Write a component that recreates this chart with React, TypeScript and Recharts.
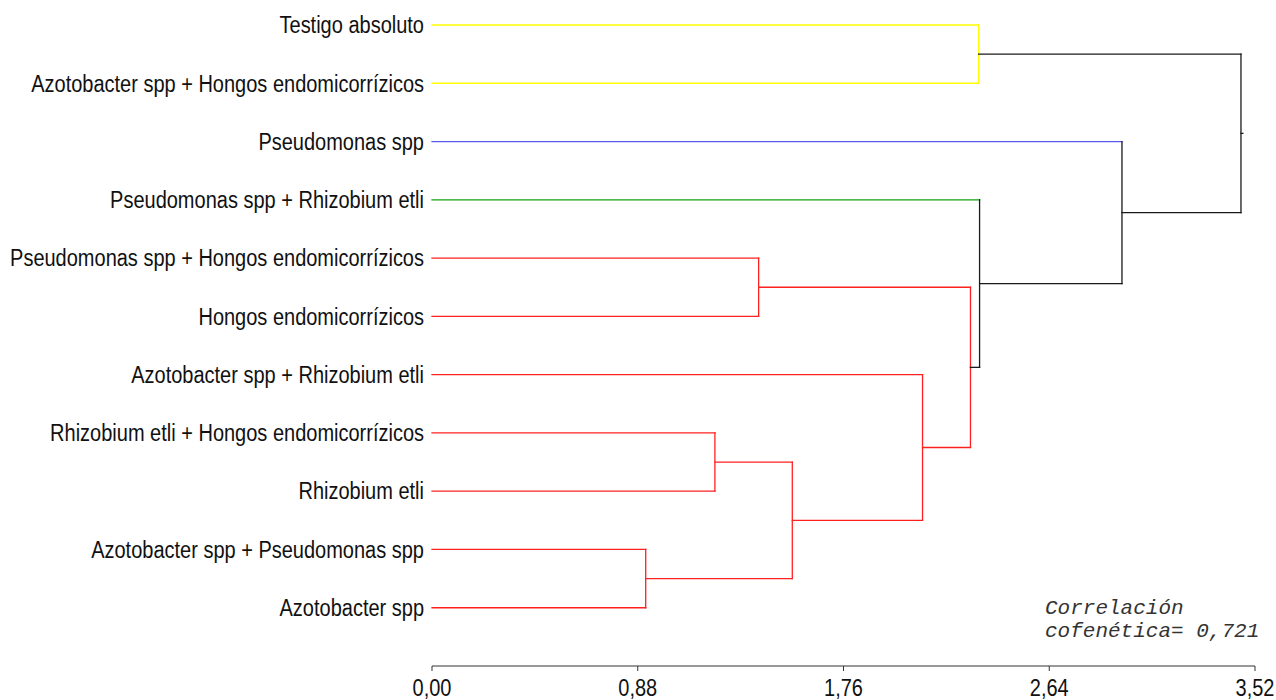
import React from "react";
import { ComposedChart, Line, XAxis, YAxis, Customized } from "recharts";

// Leaves (top to bottom)
const LEAF_LABELS = [
  "Testigo absoluto",
  "Azotobacter spp + Hongos endomicorrízicos",
  "Pseudomonas spp",
  "Pseudomonas spp + Rhizobium etli",
  "Pseudomonas spp + Hongos endomicorrízicos",
  "Hongos endomicorrízicos",
  "Azotobacter spp + Rhizobium etli",
  "Rhizobium etli + Hongos endomicorrízicos",
  "Rhizobium etli",
  "Azotobacter spp + Pseudomonas spp",
  "Azotobacter spp",
];

const YELLOW = "#ffff00";
const BLUE = "#5c5cf0";
const GREEN = "#10a010";
const RED = "#ff2020";
const BLACK = "#1a1a1a";

const LEAF_COLORS = [YELLOW, YELLOW, BLUE, GREEN, RED, RED, RED, RED, RED, RED, RED];

// Merges: node ids 0..10 are leaves, merges get ids 11, 12, ...
const MERGE_LEFT = [9, 7, 4, 12, 6, 13, 0, 3, 2, 17];
const MERGE_RIGHT = [10, 8, 5, 11, 14, 15, 1, 16, 18, 19];
const MERGE_HEIGHT = [0.914, 1.21, 1.397, 1.541, 2.098, 2.303, 2.338, 2.342, 2.951, 3.46];
const MERGE_COLORS = [RED, RED, RED, RED, RED, RED, YELLOW, BLACK, BLACK, BLACK];

const X_TICKS = [0, 0.88, 1.76, 2.64, 3.52];
const NOTE_LINES = ["Correlación", "cofenética= 0,721"];

type Pt = { x: number; y: number };
type Seg = { pts: Pt[]; color: string };

function buildSegments(): Seg[] {
  const n = LEAF_LABELS.length;
  const ys: number[] = LEAF_LABELS.map((_, i) => i);
  const hs: number[] = LEAF_LABELS.map(() => 0);
  const segs: Seg[] = [];
  MERGE_LEFT.forEach((l, k) => {
    const r = MERGE_RIGHT[k];
    const h = MERGE_HEIGHT[k];
    const col = MERGE_COLORS[k];
    [l, r].forEach((c) => {
      segs.push({
        pts: [
          { x: hs[c], y: ys[c] },
          { x: h, y: ys[c] },
        ],
        color: c < n ? LEAF_COLORS[c] : col,
      });
    });
    segs.push({
      pts: [
        { x: h, y: ys[l] },
        { x: h, y: ys[r] },
      ],
      color: col,
    });
    ys.push((ys[l] + ys[r]) / 2);
    hs.push(h);
  });
  const root = ys.length - 1;
  segs.push({
    pts: [
      { x: hs[root], y: ys[root] },
      { x: hs[root] + 0.008, y: ys[root] },
    ],
    color: BLACK,
  });
  return segs;
}

const SEGMENTS = buildSegments();

const LeafTick = (props: any) => {
  const { x, y, payload } = props;
  const label = LEAF_LABELS[payload.value] ?? "";
  return (
    <g transform={`translate(${x},${y + 8.3}) scale(1,1.165)`}>
      <text x={0} y={0} textAnchor="end" fontSize={20} fontFamily="Liberation Sans, Arial, sans-serif" fill="#111">
        {label}
      </text>
    </g>
  );
};

const AxisTick = (props: any) => {
  const { x, y, payload } = props;
  return (
    <g transform={`translate(${x},${y + 24.5}) scale(1,1.17)`}>
      <text x={0} y={0} textAnchor="middle" fontSize={20} fontFamily="Liberation Sans, Arial, sans-serif" fill="#111">
        {Number(payload.value).toFixed(2).replace(".", ",")}
      </text>
    </g>
  );
};

const Note = () => (
  <g>
    {NOTE_LINES.map((t, i) => (
      <text
        key={i}
        x={1045}
        y={614 + i * 22.5}
        fontSize={21}
        fontStyle="italic"
        fontFamily="Liberation Mono, Courier New, monospace"
        fill="#333"
      >
        {t}
      </text>
    ))}
  </g>
);

export default function App() {
  return (
    <div style={{ position: "absolute", left: 0, top: 0, width: 1276, height: 700, background: "#fff" }}>
      <ComposedChart width={1276} height={700} margin={{ top: 1.69, right: 21, bottom: 0, left: 0 }}>
        <XAxis
          type="number"
          dataKey="x"
          domain={[0, 3.52]}
          ticks={X_TICKS}
          interval={0}
          height={34}
          tickSize={5}
          tickMargin={0}
          stroke="#333"
          tick={<AxisTick />}
        />
        <YAxis
          type="number"
          dataKey="y"
          domain={[-0.4, 11]}
          reversed
          ticks={LEAF_LABELS.map((_, i) => i)}
          interval={0}
          width={432}
          axisLine={false}
          tickLine={false}
          tickSize={0}
          tickMargin={8}
          tick={<LeafTick />}
        />
        {SEGMENTS.map((s, i) => (
          <Line
            key={i}
            data={s.pts}
            dataKey="y"
            type="linear"
            stroke={s.color}
            strokeWidth={1.3}
            strokeLinecap="square"
            dot={false}
            activeDot={false}
            isAnimationActive={false}
          />
        ))}
        <Customized component={Note} />
      </ComposedChart>
    </div>
  );
}
